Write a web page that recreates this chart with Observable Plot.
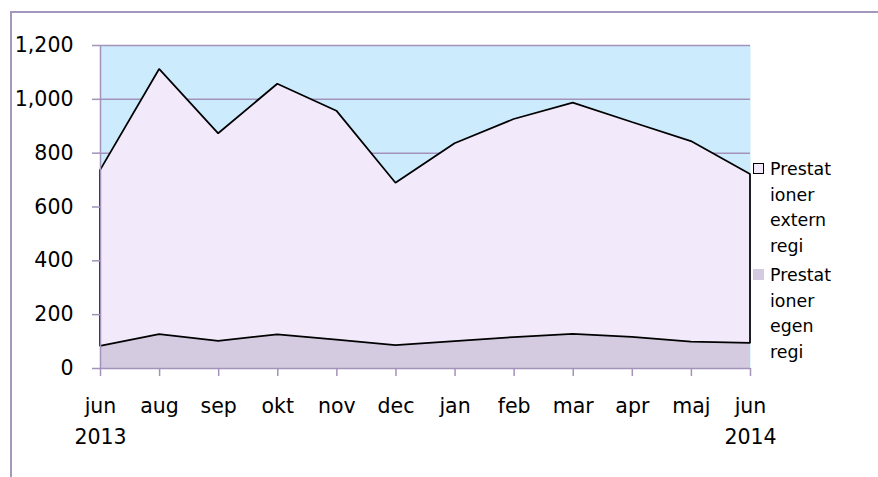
<!DOCTYPE html>
<html><head><meta charset="utf-8">
<script src="https://cdn.jsdelivr.net/npm/d3@7"></script>
<script src="https://cdn.jsdelivr.net/npm/@observablehq/plot@0.6"></script>
<style>
body{margin:0;background:#fff;}
#wrap{position:relative;width:878px;height:477px;overflow:hidden;font-family:"DejaVu Sans",sans-serif;}
#frame{position:absolute;left:10px;top:11px;width:900px;height:500px;border-top:2px solid #A597BD;border-left:2px solid #A597BD;}
#chart{position:absolute;left:0;top:0;}
.leg{position:absolute;left:753px;font-size:17.4px;line-height:25.7px;color:#000;}
.sw{position:absolute;width:11px;height:11px;box-sizing:border-box;}
.lt{position:absolute;left:17px;top:0;white-space:pre;}
</style>
</head><body>
<div id="wrap"><div id="frame"></div><div id="chart"></div></div>
<script>
// categories (x tick labels)
const months = ["jun\n2013","aug","sep","okt","nov","dec","jan","feb","mar","apr","maj","jun\n2014"];
// series values
const egenRegi   = [82,126,101,125,105,85,100,115,127,116,98,93];
const externRegi = [653,985,771,931,851,603,735,810,859,798,745,628];
// y tick labels
const yTicks = [0,200,400,600,800,1000,1200];
// series names (legend, as wrapped in the original)
const seriesNames = ["Prestationer extern regi","Prestationer egen regi"];
const legendLines = [["Prestat","ioner","extern","regi"],["Prestat","ioner","egen","regi"]];

const rows = months.map((m,i)=>({i, label:m, egen: egenRegi[i], total: egenRegi[i]+externRegi[i]}));

const gridC = "#A392BA";
const plot = Plot.plot({
  width: 878, height: 477,
  marginLeft: 100, marginRight: 128, marginTop: 45, marginBottom: 109,
  style: {fontFamily: "DejaVu Sans", fontSize: "20.5px", color: "#000", background: "transparent"},
  x: {type: "linear", domain: [0, months.length - 1]},
  y: {domain: [0, 1200]},
  marks: [
    Plot.frame({fill: "#CCEBFD", stroke: null}),
    Plot.ruleY(yTicks.slice(1), {stroke: gridC, strokeWidth: 1.5}),
    Plot.areaY(rows, {x: "i", y: "egen", fill: "#D5CBE0"}),
    Plot.areaY(rows, {x: "i", y1: "egen", y2: "total", fill: "#F2E9FA", stroke: "black", strokeWidth: 1.75, strokeLinejoin: "miter"}),
    Plot.ruleX([0], {stroke: gridC, strokeWidth: 1.5}),
    Plot.ruleY([0], {stroke: gridC, strokeWidth: 1.5}),
    Plot.axisY({ticks: yTicks, tickFormat: d3.format(","), tickSize: 8, tickPadding: 19, stroke: gridC, strokeWidth: 1.5, strokeOpacity: 1, fill: "#000", label: null}),
    Plot.axisX({ticks: d3.range(months.length), tickFormat: i => months[i], tickSize: 8, tickPadding: 15, lineHeight: 1.5, stroke: gridC, strokeWidth: 1.5, strokeOpacity: 1, fill: "#000", label: null})
  ]
});
document.getElementById("chart").appendChild(plot);

// legend
const wrap = document.getElementById("wrap");
const legTops = [157, 263];
const swatchStyles = [
  "background:#F2E9FA;border:1.5px solid #000;",
  "background:#D5CBE0;"
];
seriesNames.forEach((name, k) => {
  const d = document.createElement("div");
  d.className = "leg";
  d.style.top = legTops[k] + "px";
  d.title = name;
  d.innerHTML = `<div class="sw" style="top:6px;${swatchStyles[k]}"></div><div class="lt">${legendLines[k].join("\n")}</div>`;
  wrap.appendChild(d);
});
</script>
</body></html>
